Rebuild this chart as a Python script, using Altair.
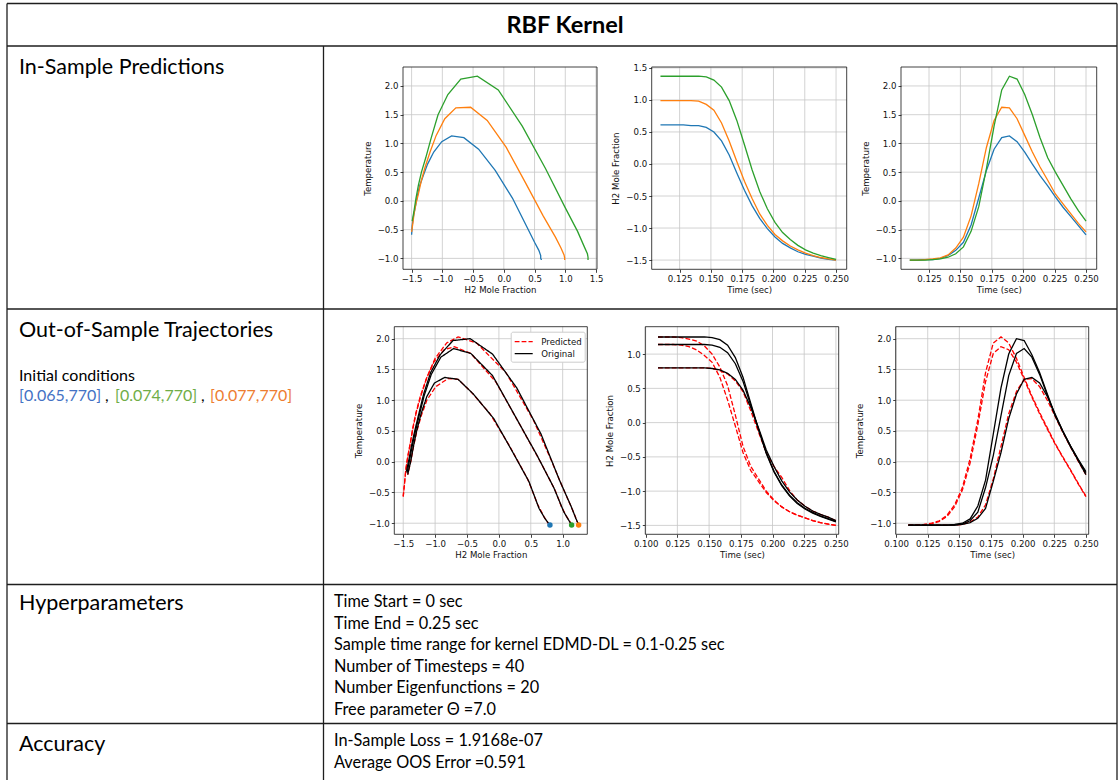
import altair as alt
import pandas as pd

# ------------------------------------------------------------------ data
TIME = [0.1097, 0.1158, 0.1219, 0.1280, 0.1341, 0.1402, 0.1463, 0.1524, 0.1585, 0.1646,
        0.1707, 0.1768, 0.1829, 0.1890, 0.1951, 0.2012, 0.2073, 0.2134, 0.2195, 0.2256,
        0.2317, 0.2378, 0.2439, 0.2500]

# In-sample predictions (three training trajectories)
IN_H2_BLUE = [0.61, 0.61, 0.61, 0.61, 0.60, 0.60, 0.57, 0.50, 0.36, 0.14, -0.14, -0.41,
              -0.65, -0.85, -1.01, -1.14, -1.24, -1.31, -1.37, -1.41, -1.44, -1.47, -1.49, -1.50]
IN_T_BLUE = [-1.03, -1.03, -1.02, -1.02, -1.00, -0.95, -0.86, -0.72, -0.42, 0.05, 0.53, 0.90,
             1.10, 1.13, 1.03, 0.85, 0.64, 0.44, 0.26, 0.07, -0.11, -0.27, -0.43, -0.59]
IN_H2_ORANGE = [0.99, 0.99, 0.99, 0.99, 0.99, 0.98, 0.93, 0.84, 0.64, 0.36, 0.04, -0.27,
                -0.54, -0.78, -0.96, -1.10, -1.20, -1.28, -1.34, -1.39, -1.43, -1.46, -1.48, -1.50]
IN_T_ORANGE = [-1.03, -1.03, -1.02, -1.01, -0.99, -0.94, -0.82, -0.63, -0.26, 0.30, 0.93, 1.40,
               1.63, 1.62, 1.43, 1.14, 0.85, 0.59, 0.36, 0.12, -0.05, -0.22, -0.39, -0.54]
IN_H2_GREEN = [1.37, 1.37, 1.37, 1.37, 1.37, 1.37, 1.36, 1.31, 1.20, 0.99, 0.68, 0.30,
               -0.09, -0.43, -0.70, -0.91, -1.07, -1.18, -1.27, -1.34, -1.39, -1.43, -1.46, -1.49]
IN_T_GREEN = [-1.03, -1.03, -1.03, -1.02, -1.01, -0.98, -0.92, -0.80, -0.53, -0.10, 0.56, 1.30,
              1.93, 2.17, 2.12, 1.85, 1.50, 1.10, 0.75, 0.50, 0.27, 0.04, -0.17, -0.35]

# Out-of-sample: original trajectories
OR_H2_BLUE = [0.80, 0.80, 0.80, 0.80, 0.80, 0.80, 0.80, 0.79, 0.77, 0.72, 0.63, 0.47,
              0.22, -0.08, -0.40, -0.64, -0.85, -1.01, -1.13, -1.22, -1.29, -1.34, -1.38, -1.43]
OR_T_BLUE = [-1.03, -1.03, -1.03, -1.03, -1.03, -1.03, -1.03, -1.02, -0.99, -0.92, -0.76, -0.32,
             0.15, 0.70, 1.10, 1.34, 1.37, 1.28, 1.06, 0.78, 0.50, 0.25, 0.02, -0.21]
OR_H2_GREEN = [1.14, 1.14, 1.14, 1.14, 1.14, 1.14, 1.14, 1.13, 1.10, 1.02, 0.86, 0.60,
               0.25, -0.10, -0.44, -0.71, -0.91, -1.06, -1.17, -1.25, -1.31, -1.36, -1.40, -1.44]
OR_T_GREEN = [-1.03, -1.03, -1.03, -1.03, -1.03, -1.03, -1.03, -1.01, -0.96, -0.82, -0.42, 0.10,
              0.75, 1.40, 1.76, 1.84, 1.70, 1.42, 1.08, 0.75, 0.49, 0.25, 0.03, -0.18]
OR_H2_ORANGE = [1.25, 1.25, 1.25, 1.25, 1.25, 1.25, 1.25, 1.24, 1.21, 1.13, 0.95, 0.66,
                0.28, -0.10, -0.45, -0.72, -0.92, -1.07, -1.18, -1.26, -1.32, -1.37, -1.41, -1.45]
OR_T_ORANGE = [-1.03, -1.03, -1.03, -1.03, -1.03, -1.03, -1.02, -1.00, -0.93, -0.72, -0.30, 0.45,
               1.20, 1.75, 2.00, 1.97, 1.74, 1.45, 1.10, 0.76, 0.50, 0.26, 0.04, -0.16]

# Out-of-sample: predicted trajectories
PR_H2_BLUE = [0.80, 0.80, 0.80, 0.80, 0.80, 0.80, 0.80, 0.79, 0.76, 0.71, 0.61, 0.45,
              0.17, -0.14, -0.44, -0.64, -0.80, -0.99, -1.13, -1.22, -1.29, -1.34, -1.38, -1.43]
PR_T_BLUE = [-1.03, -1.03, -1.03, -1.03, -1.03, -1.03, -1.03, -1.02, -0.98, -0.90, -0.70, -0.28,
             0.25, 0.78, 1.14, 1.34, 1.35, 1.22, 1.00, 0.74, 0.48, 0.24, 0.01, -0.21]
PR_H2_GREEN = [1.14, 1.14, 1.14, 1.13, 1.11, 1.06, 0.98, 0.88, 0.66, 0.33, -0.05, -0.44,
               -0.70, -0.86, -1.02, -1.14, -1.23, -1.30, -1.35, -1.39, -1.43, -1.46, -1.48, -1.50]
PR_T_GREEN = [-1.03, -1.03, -1.03, -1.01, -0.97, -0.89, -0.73, -0.46, -0.02, 0.60, 1.30, 1.76,
              1.87, 1.82, 1.62, 1.34, 1.05, 0.78, 0.53, 0.29, 0.07, -0.14, -0.36, -0.57]
PR_H2_ORANGE = [1.25, 1.25, 1.25, 1.24, 1.22, 1.19, 1.12, 1.00, 0.81, 0.54, 0.11, -0.35,
                -0.64, -0.82, -1.00, -1.13, -1.23, -1.30, -1.35, -1.39, -1.43, -1.46, -1.48, -1.50]
PR_T_ORANGE = [-1.03, -1.03, -1.02, -1.00, -0.96, -0.87, -0.70, -0.42, 0.05, 0.68, 1.45, 1.93,
               2.03, 1.93, 1.68, 1.37, 1.07, 0.80, 0.55, 0.30, 0.08, -0.13, -0.35, -0.56]

SERIES = ["blue", "orange", "green"]
SERIES_COLORS = {"blue": "#1f77b4", "orange": "#ff7f0e", "green": "#2ca02c"}
LEGEND_KINDS = ["Predicted", "Original"]

# table texts
TITLE = "RBF Kernel"
ROW_LABELS = ["In-Sample Predictions", "Out-of-Sample Trajectories", "Hyperparameters", "Accuracy"]
IC_LABEL = "Initial conditions"
IC_TEXTS = ["[0.065,770]", ",", "[0.074,770]", ",", "[0.077,770]"]
HYPER_LINES = ["Time Start = 0 sec", "Time End = 0.25 sec",
               "Sample time range for kernel EDMD-DL = 0.1-0.25 sec",
               "Number of Timesteps = 40", "Number Eigenfunctions = 20",
               "Free parameter \u0398 =7.0"]
ACC_LINES = ["In-Sample Loss = 1.9168e-07", "Average OOS Error =0.591"]

# ------------------------------------------------------------------ tables
def traj(h2s, ts, names, kind=""):
    rows = []
    for h2, tt, nm in zip(h2s, ts, names):
        for i, t in enumerate(TIME):
            rows.append({"t": t, "h2": h2[i], "T": tt[i], "s": kind + nm,
                         "col": SERIES_COLORS[nm], "kind": kind})
    return pd.DataFrame(rows)

df_in = traj([IN_H2_BLUE, IN_H2_ORANGE, IN_H2_GREEN], [IN_T_BLUE, IN_T_ORANGE, IN_T_GREEN], SERIES)
df_or = traj([OR_H2_BLUE, OR_H2_ORANGE, OR_H2_GREEN], [OR_T_BLUE, OR_T_ORANGE, OR_T_GREEN], SERIES, "Original")
df_pr = traj([PR_H2_BLUE, PR_H2_ORANGE, PR_H2_GREEN], [PR_T_BLUE, PR_T_ORANGE, PR_T_GREEN], SERIES, "Predicted")
df_ic = pd.DataFrame({"h2": [OR_H2_BLUE[0], OR_H2_GREEN[0], OR_H2_ORANGE[0]],
                      "T": [OR_T_BLUE[0], OR_T_GREEN[0], OR_T_ORANGE[0]],
                      "col": [SERIES_COLORS["blue"], SERIES_COLORS["green"], SERIES_COLORS["orange"]]})

# ------------------------------------------------------------------ layout
W, H = 1118, 780
TICK_FONT = "DejaVu Sans"
TXT_FONT = "Lato"

H2_TICKS_A = [-1.5, -1.0, -0.5, 0.0, 0.5, 1.0, 1.5]
H2_TICKS_B = [-1.5, -1.0, -0.5, 0.0, 0.5, 1.0]
T_TICKS = [-1.0, -0.5, 0.0, 0.5, 1.0, 1.5, 2.0]
H2Y_TICKS_A = [-1.5, -1.0, -0.5, 0.0, 0.5, 1.0, 1.5]
H2Y_TICKS_B = [-1.5, -1.0, -0.5, 0.0, 0.5, 1.0]
TIME_TICKS_A = [0.125, 0.150, 0.175, 0.200, 0.225, 0.250]
TIME_TICKS_B = [0.100, 0.125, 0.150, 0.175, 0.200, 0.225, 0.250]

PANELS = {
    "p1": dict(x=[403.0, 597.0], y=[67.0, 269.3], xd=[-1.64, 1.516], yd=[-1.19, 2.33],
               xt=H2_TICKS_A, yt=T_TICKS, xf=".1f", xtitle="H2 Mole Fraction", ytitle="Temperature"),
    "p2": dict(x=[651.7, 846.7], y=[67.0, 269.3], xd=[0.1027, 0.2585], yd=[-1.644, 1.514],
               xt=TIME_TICKS_A, yt=H2Y_TICKS_A, xf=".3f", xtitle="Time (sec)", ytitle="H2 Mole Fraction"),
    "p3": dict(x=[901.0, 1096.7], y=[67.0, 269.3], xd=[0.1027, 0.2585], yd=[-1.19, 2.33],
               xt=TIME_TICKS_A, yt=T_TICKS, xf=".3f", xtitle="Time (sec)", ytitle="Temperature"),
    "p4": dict(x=[394.3, 587.3], y=[326.7, 534.3], xd=[-1.64, 1.386], yd=[-1.18, 2.195],
               xt=H2_TICKS_B, yt=T_TICKS, xf=".1f", xtitle="H2 Mole Fraction", ytitle="Temperature"),
    "p5": dict(x=[645.3, 838.7], y=[326.7, 534.3], xd=[0.0997, 0.2522], yd=[-1.63, 1.40],
               xt=TIME_TICKS_B, yt=H2Y_TICKS_B, xf=".3f", xtitle="Time (sec)", ytitle="H2 Mole Fraction"),
    "p6": dict(x=[895.7, 1088.7], y=[326.7, 534.3], xd=[0.0997, 0.2522], yd=[-1.18, 2.195],
               xt=TIME_TICKS_B, yt=T_TICKS, xf=".3f", xtitle="Time (sec)", ytitle="Temperature"),
}

AXIS_STYLE = dict(grid=False, domain=False, ticks=True, tickSize=3, tickWidth=0.8,
                  tickColor="#111111", labelFont=TICK_FONT, labelFontSize=8.6,
                  labelColor="#111111", labelPadding=2, labelFlush=False,
                  labelOverlap=False, labelBound=False, titleFont=TICK_FONT,
                  titleFontSize=8.6, titleFontWeight="normal", titleColor="#111111")

LINE_W = 1.3
DASH = [4.8, 2.1]


def panel(p, content):
    xs = alt.Scale(domain=p["xd"], range=p["x"], nice=False, zero=False)
    ys = alt.Scale(domain=p["yd"], range=[p["y"][1], p["y"][0]], nice=False, zero=False)
    ax = alt.Axis(orient="bottom", offset=p["y"][1] - H, values=p["xt"], format=p["xf"],
                  title=p["xtitle"], titlePadding=3, **AXIS_STYLE)
    ay = alt.Axis(orient="left", offset=-p["x"][0], values=p["yt"], format=".1f",
                  title=p["ytitle"], titlePadding=5, **AXIS_STYLE)

    def X(f):
        return alt.X(f, type="quantitative", scale=xs, axis=ax)

    def Y(f):
        return alt.Y(f, type="quantitative", scale=ys, axis=ay)

    gx = pd.DataFrame({"v": p["xt"], "lo": p["yd"][0], "hi": p["yd"][1]})
    gy = pd.DataFrame({"v": p["yt"], "lo": p["xd"][0], "hi": p["xd"][1]})
    fr = pd.DataFrame([{"x0": p["xd"][0], "x1": p["xd"][1], "y0": p["yd"][0], "y1": p["yd"][1]}])

    grid_x = alt.Chart(gx).mark_rule(color="#c6c6c6", strokeWidth=0.8).encode(
        x=X("v"), y=Y("lo"), y2="hi:Q")
    grid_y = alt.Chart(gy).mark_rule(color="#c6c6c6", strokeWidth=0.8).encode(
        y=Y("v"), x=X("lo"), x2="hi:Q")
    frame = alt.Chart(fr).mark_rect(fillOpacity=0, stroke="#111111", strokeWidth=0.8).encode(
        x=X("x0"), x2="x1:Q", y=Y("y0"), y2="y1:Q")
    return alt.layer(grid_x, grid_y, *content(X, Y), frame)


def colored_lines(xf, yf):
    def content(X, Y):
        return [alt.Chart(df_in).mark_line(strokeWidth=LINE_W).encode(
            x=X(xf), y=Y(yf), detail="s:N", order=alt.Order("t:Q"),
            color=alt.Color("col:N", scale=None))]
    return content


def oos_lines(xf, yf):
    def content(X, Y):
        pred = alt.Chart(df_pr).mark_line(strokeWidth=LINE_W, color="#ff0000", strokeDash=DASH).encode(
            x=X(xf), y=Y(yf), detail="s:N", order=alt.Order("t:Q"))
        orig = alt.Chart(df_or).mark_line(strokeWidth=LINE_W, color="#000000").encode(
            x=X(xf), y=Y(yf), detail="s:N", order=alt.Order("t:Q"))
        return [pred, orig]
    return content


LEG = alt.Legend(orient="none", legendX=510.7, legendY=331.7, title=None,
                 symbolType="M-1,0H2", symbolSize=144, symbolStrokeWidth=LINE_W,
                 labelFont=TICK_FONT, labelFontSize=8.6, labelColor="#111111",
                 labelOffset=13.6, padding=3, rowPadding=0, strokeColor="#cccccc",
                 fillColor="white", cornerRadius=2)
KIND_COLOR = alt.Color("kind:N", scale=alt.Scale(domain=LEGEND_KINDS, range=["#ff0000", "#000000"]),
                       legend=LEG)
KIND_DASH = alt.StrokeDash("kind:N", scale=alt.Scale(domain=LEGEND_KINDS, range=[DASH, [1, 0]]),
                           legend=LEG)


def phase_oos(X, Y):
    pred = alt.Chart(df_pr).mark_line(strokeWidth=LINE_W).encode(
        x=X("h2"), y=Y("T"), detail="s:N", order=alt.Order("t:Q"),
        color=KIND_COLOR, strokeDash=KIND_DASH)
    orig = alt.Chart(df_or).mark_line(strokeWidth=LINE_W).encode(
        x=X("h2"), y=Y("T"), detail="s:N", order=alt.Order("t:Q"),
        color=KIND_COLOR, strokeDash=KIND_DASH)
    dots = alt.Chart(df_ic).mark_circle(size=30, opacity=1).encode(
        x=X("h2"), y=Y("T"), color=alt.Color("col:N", scale=None))
    return [pred, orig, dots]


p1 = panel(PANELS["p1"], colored_lines("h2", "T"))
p2 = panel(PANELS["p2"], colored_lines("t", "h2"))
p3 = panel(PANELS["p3"], colored_lines("t", "T"))
p4 = panel(PANELS["p4"], phase_oos)
p5 = panel(PANELS["p5"], oos_lines("t", "h2"))
p6 = panel(PANELS["p6"], oos_lines("t", "T"))

# ------------------------------------------------------------------ table canvas
SEGMENTS = [
    (7, 3.5, 1117, 3.5), (7, 46, 1117, 46), (7, 309, 1117, 309),
    (7, 584.5, 1117, 584.5), (7, 723.5, 1117, 723.5),
    (7, 3.5, 7, 780), (1117, 3.5, 1117, 780), (323.5, 46, 323.5, 780),
]
cx = alt.Scale(domain=[0, W], range=[0, W], nice=False, zero=False)
cy = alt.Scale(domain=[0, H], range=[0, H], nice=False, zero=False)
seg_df = pd.DataFrame(SEGMENTS, columns=["x1", "y1", "x2", "y2"])
rules = alt.Chart(seg_df).mark_rule(color="#1e1e1e", strokeWidth=1.3).encode(
    x=alt.X("x1:Q", scale=cx, axis=None), y=alt.Y("y1:Q", scale=cy, axis=None),
    x2="x2:Q", y2="y2:Q")

BIG, SMALL = 21.5, 16.3
text_rows = []
for lab, yy in zip(ROW_LABELS, [74, 337, 610, 751]):
    text_rows.append({"x": 19, "y": yy, "txt": lab, "fs": BIG, "col": "#000000"})
text_rows.append({"x": 19, "y": 381, "txt": IC_LABEL, "fs": 16, "col": "#000000"})
for txt, xx, c in zip(IC_TEXTS, [19, 105, 115, 201, 210],
                      ["#4472c4", "#000000", "#70ad47", "#000000", "#ed7d31"]):
    text_rows.append({"x": xx, "y": 401, "txt": txt, "fs": 16, "col": c})
for txt, yy in zip(HYPER_LINES, [607, 628.5, 650, 671.5, 693, 714.5]):
    text_rows.append({"x": 334, "y": yy, "txt": txt, "fs": SMALL, "col": "#000000"})
for txt, yy in zip(ACC_LINES, [746, 768]):
    text_rows.append({"x": 334, "y": yy, "txt": txt, "fs": SMALL, "col": "#000000"})
txt_df = pd.DataFrame(text_rows)

texts = alt.Chart(txt_df).mark_text(align="left", baseline="alphabetic", font=TXT_FONT).encode(
    x=alt.X("x:Q", scale=cx, axis=None), y=alt.Y("y:Q", scale=cy, axis=None),
    text="txt:N", size=alt.Size("fs:Q", scale=None), color=alt.Color("col:N", scale=None))
title = alt.Chart(pd.DataFrame([{"x": 565, "y": 33, "txt": TITLE}])).mark_text(
    align="center", baseline="alphabetic", font=TXT_FONT, fontSize=23.5, fontWeight="bold",
    color="#000000").encode(
    x=alt.X("x:Q", scale=cx, axis=None), y=alt.Y("y:Q", scale=cy, axis=None), text="txt:N")

canvas = alt.layer(rules, texts, title)

chart = alt.layer(canvas, p1, p2, p3, p4, p5, p6).resolve_scale(
    x="independent", y="independent"
).properties(
    width=W, height=H, autosize=alt.AutoSizeParams(type="none"), padding=0, background="white"
).configure_view(strokeWidth=0)

chart.save("out.html", embed_options={"renderer": "svg", "actions": False})
